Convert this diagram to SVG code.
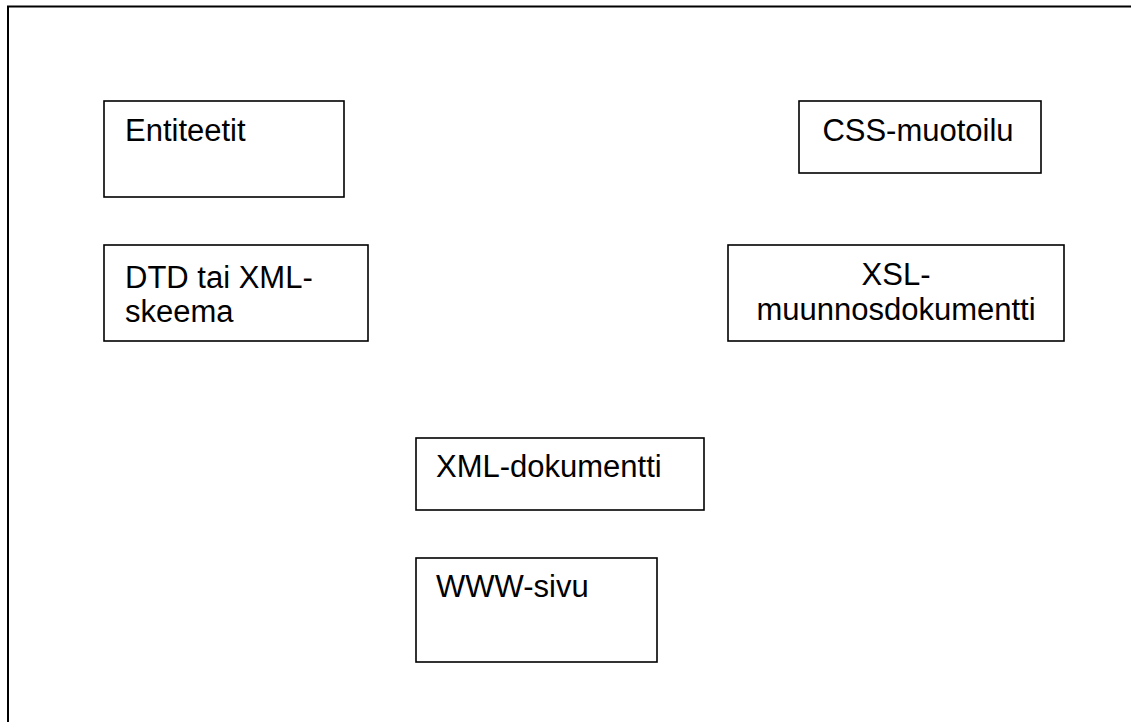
<svg xmlns="http://www.w3.org/2000/svg" width="1131" height="722" viewBox="0 0 1131 722">
<style>
.box{fill:#fff;stroke:#000;stroke-width:1.6}
.t{font-family:"Liberation Sans",Arial,sans-serif;font-size:31px;fill:#000}
.c{text-anchor:middle}
</style>
<rect width="1131" height="722" fill="#fff"/>
<path d="M8 723 V6.5 H1132" fill="none" stroke="#000" stroke-width="2"/>
<g id="connectors"></g>
<g id="entiteetit"><rect class="box" x="104" y="101" width="240" height="96"/><text class="t" x="125" y="141">Entiteetit</text></g>
<g id="dtd"><rect class="box" x="104" y="245" width="264" height="96"/><text class="t" x="125" y="288">DTD tai XML-</text><text class="t" x="125" y="322">skeema</text></g>
<g id="css"><rect class="box" x="799" y="101" width="242" height="72"/><text class="t c" x="918" y="141">CSS-muotoilu</text></g>
<g id="xsl"><rect class="box" x="728" y="245" width="336" height="96"/><text class="t c" x="896" y="285">XSL-</text><text class="t c" x="896" y="320">muunnosdokumentti</text></g>
<g id="xml"><rect class="box" x="416" y="438" width="288" height="72"/><text class="t" x="436" y="477">XML-dokumentti</text></g>
<g id="www"><rect class="box" x="416" y="558" width="241" height="104"/><text class="t" x="436" y="597">WWW-sivu</text></g>
</svg>
